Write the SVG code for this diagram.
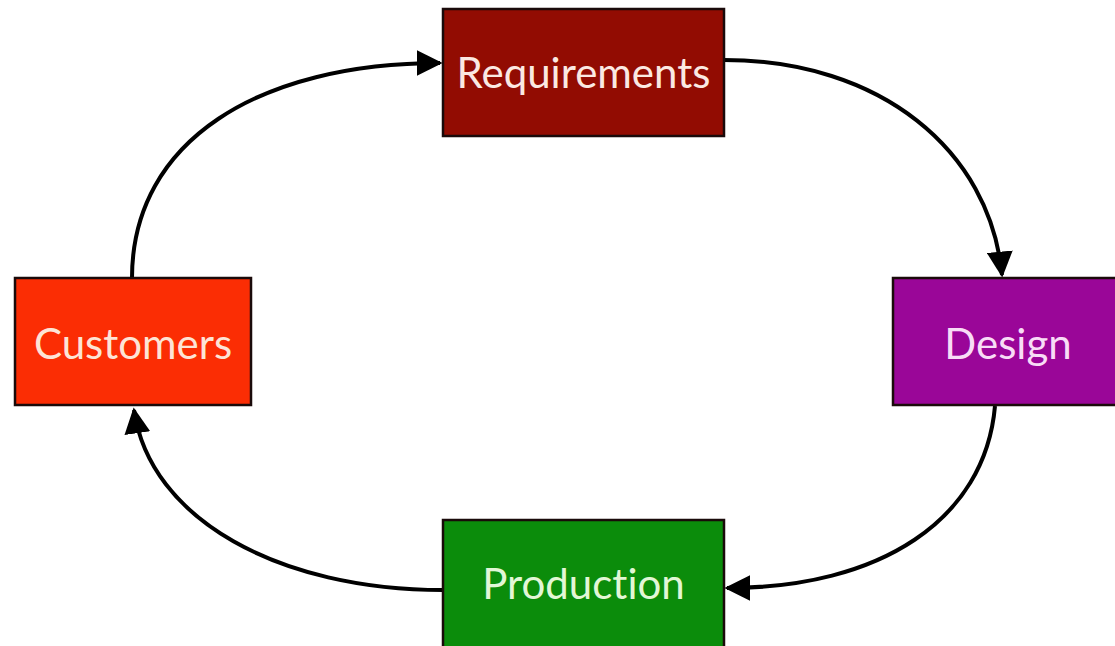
<svg xmlns="http://www.w3.org/2000/svg" width="1115" height="646" viewBox="0 0 1115 646">
<style>
.box{stroke:#1a0a0a;stroke-width:2.5}
.lbl{font-family:Lato,"Open Sans","Liberation Sans",sans-serif;font-size:42px;text-anchor:middle;dominant-baseline:central;font-variant-ligatures:none}
.edge{fill:none;stroke:#000;stroke-width:4}
</style>
<defs>
<marker id="ah" viewBox="0 0 10 10" refX="9" refY="5" markerWidth="6.5" markerHeight="6.5" orient="auto" markerUnits="strokeWidth">
<path d="M0,0 L10,5 L0,10 z" fill="#000"/>
</marker>
</defs>
<rect width="1115" height="646" fill="#fff"/>
<g id="connectors">
<path class="edge" d="M132,278 C132,140 260,63 440,63" marker-end="url(#ah)"/>
<path class="edge" d="M724,60 C880,60 990,150 1002,275" marker-end="url(#ah)"/>
<path class="edge" d="M995,406 C985,520 880,588 727,588" marker-end="url(#ah)"/>
<path class="edge" d="M443,590 C280,590 150,520 134,410" marker-end="url(#ah)"/>
</g>
<g id="requirements">
<rect class="box" x="443" y="9" width="281" height="127" fill="#920c02"/>
<text class="lbl" x="583.5" y="72" fill="#fbe9e2">Requirements</text>
</g>
<g id="customers">
<rect class="box" x="15" y="278" width="236" height="127" fill="#fb2d04"/>
<text class="lbl" x="133" y="343" fill="#fde4d6">Customers</text>
</g>
<g id="design">
<rect class="box" x="893" y="278" width="230" height="127" fill="#9a0698"/>
<text class="lbl" x="1008" y="343" fill="#f8dcf6">Design</text>
</g>
<g id="production">
<rect class="box" x="443" y="520" width="281" height="135" fill="#0b8c0b"/>
<text class="lbl" x="583.5" y="583" fill="#e2f7d6">Production</text>
</g>
</svg>
